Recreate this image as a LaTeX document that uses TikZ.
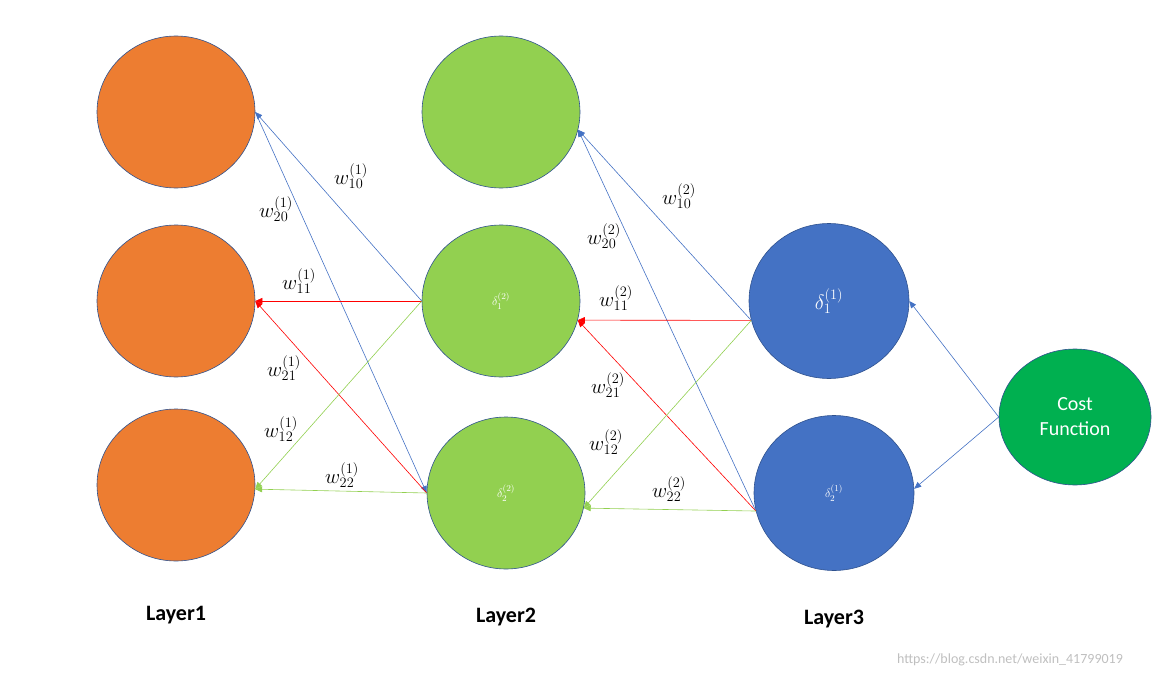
\documentclass[tikz,border=0pt]{standalone}
\usepackage{fontspec}
\setmainfont{Carlito}
\usepackage{xcolor}
\usetikzlibrary{positioning,arrows.meta,shapes.geometric}
\definecolor{orangeL}{HTML}{ED7D31}
\definecolor{greenL}{HTML}{92D050}
\definecolor{blueL}{HTML}{4472C4}
\definecolor{costC}{HTML}{00B050}
\definecolor{rimC}{HTML}{2F528F}

\begin{document}
\begin{tikzpicture}[x=1pt,y=-1pt,
        neuron/.style={ellipse, draw=rimC, line width=0.6pt, minimum width=158pt, minimum height=152pt, inner sep=0pt},
        input/.style={neuron, fill=orangeL},
        hidden/.style={neuron, fill=greenL},
        output/.style={neuron, fill=blueL, minimum width=160pt, minimum height=155pt},
        cost/.style={neuron, fill=costC, minimum width=152pt, minimum height=136pt, text=white, align=center, font=\fontsize{20}{25}\selectfont},
        arrow/.style={-{Triangle[length=7pt,width=6pt]}, line width=0.6pt},
        wlabel/.style={font=\fontsize{20}{22}\selectfont},
        layer/.style={font=\fontsize{22}{24}\selectfont\bfseries}
    ]
    \useasboundingbox (0,0) rectangle (1157,677);

    % Layer1
    \node[input] (a1) at (176,112) {};
    \node[input] (a2) at (176,301) {};
    \node[input] (a3) at (176,485) {};

    % Layer2
    \node[hidden] (b1) at (501,112) {};
    \node[hidden, text=white, font=\fontsize{13}{15}\selectfont] (b2) at (501,301) {$\delta_1^{(2)}$};
    \node[hidden, text=white, font=\fontsize{13}{15}\selectfont] (b3) at (506,493) {$\delta_2^{(2)}$};

    % Layer3
    \node[output, text=white, font=\fontsize{20}{22}\selectfont] (c1) at (829,301) {$\delta_1^{(1)}$};
    \node[output, text=white, font=\fontsize{13}{15}\selectfont] (c2) at (834,493) {$\delta_2^{(1)}$};

    % Cost
    \node[cost] (cf) at (1075,417) {Cost\\Function};

    % Layer2 -> Layer1
    \draw[arrow, blueL] (b2.west) -- (a1.east);
    \draw[arrow, blueL] (a1.east) -- (b3.west);
    \draw[arrow, red] (b2.west) -- (a2.east);
    \draw[arrow, red] (b3.west) -- (a2.east);
    \draw[arrow, greenL] (b2.west) -- (a3.-3);
    \draw[arrow, greenL] (b3.west) -- (a3.-3);

    % Layer3 -> Layer2
    \draw[arrow, blueL] (c1.194) -- (b1.-13);
    \draw[arrow, blueL] (c2.193) -- (b1.-13);
    \draw[arrow, red] (c1.194) -- (b2.-14);
    \draw[arrow, red] (c2.193) -- (b2.-14);
    \draw[arrow, greenL] (c1.194) -- (b3.-11);
    \draw[arrow, greenL] (c2.193) -- (b3.-11);

    % Cost -> Layer3
    \draw[arrow, blueL] (cf.west) -- (c1.east);
    \draw[arrow, blueL] (cf.west) -- (c2.3);

    % weights
    \node[wlabel] (w110) at (351,176) {$w_{10}^{(1)}$};
    \node[wlabel] (w120) at (276,209) {$w_{20}^{(1)}$};
    \node[wlabel] (w111) at (299,281) {$w_{11}^{(1)}$};
    \node[wlabel] (w121) at (284,368) {$w_{21}^{(1)}$};
    \node[wlabel] (w112) at (281,429) {$w_{12}^{(1)}$};
    \node[wlabel] (w122) at (342,475) {$w_{22}^{(1)}$};
    \node[wlabel] (w210) at (679,196) {$w_{10}^{(2)}$};
    \node[wlabel] (w220) at (604,236) {$w_{20}^{(2)}$};
    \node[wlabel] (w211) at (616,298) {$w_{11}^{(2)}$};
    \node[wlabel] (w221) at (608,385) {$w_{21}^{(2)}$};
    \node[wlabel] (w212) at (606,442) {$w_{12}^{(2)}$};
    \node[wlabel] (w222) at (669,489) {$w_{22}^{(2)}$};

    % layer names
    \node[layer] (l1) at (176,615) {Layer1};
    \node[layer] (l2) at (506,617) {Layer2};
    \node[layer] (l3) at (834,619) {Layer3};

    \node[text=black!25, font=\fontsize{14}{16}\selectfont] (wm) at (1010,660) {https://blog.csdn.net/weixin\_41799019};
\end{tikzpicture}
\end{document}
